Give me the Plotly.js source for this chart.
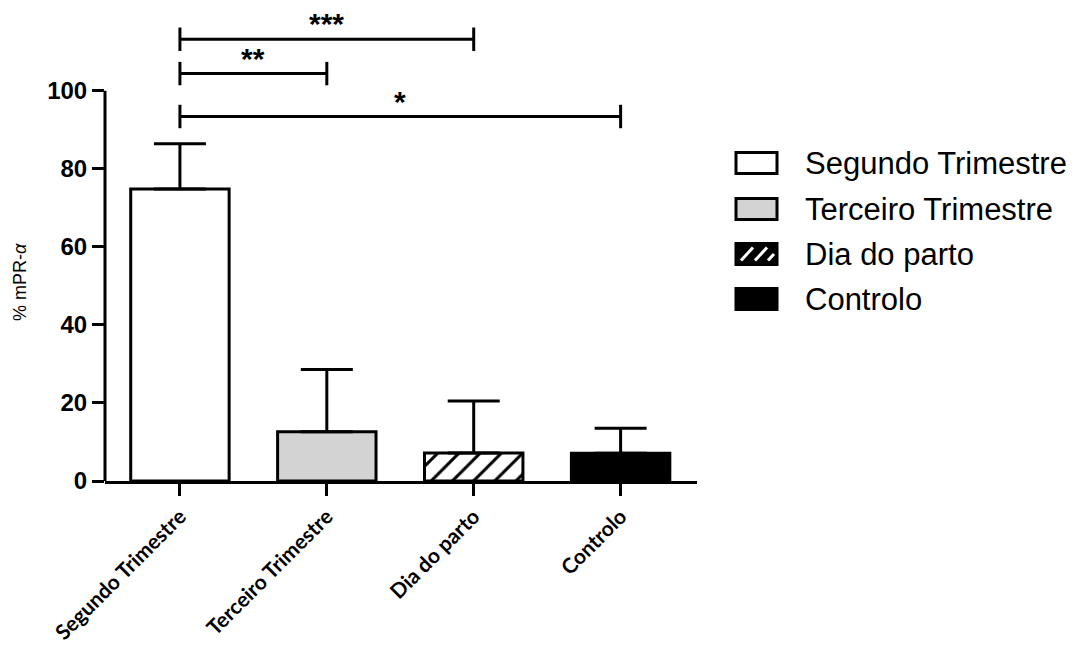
<!DOCTYPE html>
<html>
<head>
<meta charset="utf-8">
<script src="https://cdn.plot.ly/plotly-3.0.1.min.js"></script>
<style>html,body{margin:0;padding:0;background:#fff;}#chart{width:1076px;height:651px;}</style>
</head>
<body>
<div id="chart"></div>
<script>
// ---- data ----
const categories = ["Segundo Trimestre", "Terceiro Trimestre", "Dia do parto", "Controlo"];
const means = [74.8, 12.6, 7.2, 7.1];
const errPlus = [11.6, 16.0, 13.3, 6.4];
const fillColors = ["#ffffff", "#d3d3d3", "#000000", "#000000"];
const patternShapes = ["", "", "/", ""];
const yTicks = [0, 20, 40, 60, 80, 100];

// significance comparisons
const compFrom = [0, 0, 0];
const compTo = [2, 1, 3];
const compLevel = [113.2, 104.4, 93.4];
const compLabel = ["***", "**", "*"];

// ---- layout helpers ----
const L = 105, R = 379, T = 1, B = 170, W = 1076, H = 651;
const pw = W - L - R, ph = H - T - B;
const px = v => (v - L) / pw;
const py = v => (H - B - v) / ph;

const trace = {
  type: "bar",
  x: categories,
  y: means,
  width: 0.67,
  marker: {
    color: fillColors,
    line: {color: "#000", width: 3},
    pattern: {shape: patternShapes, fgcolor: "#ffffff", bgcolor: "#000000", size: 15, solidity: 0.2, fillmode: "replace"}
  },
  error_y: {type: "data", symmetric: false, array: errPlus, arrayminus: [0, 0, 0, 0], color: "#000", thickness: 3, width: 26},
  showlegend: false,
  hoverinfo: "x+y"
};

const shapes = [];
const annotations = [];

// y axis line only up to 100
shapes.push({type: "line", xref: "paper", yref: "y", x0: 0, x1: 0, y0: 0, y1: 100, line: {color: "#000", width: 3}});

// significance brackets
const tick = 3.0;
for (let i = 0; i < compFrom.length; i++) {
  const a = compFrom[i], b = compTo[i], y = compLevel[i];
  shapes.push({type: "line", xref: "x", yref: "y", x0: a, x1: b, y0: y, y1: y, line: {color: "#000", width: 3}});
  shapes.push({type: "line", xref: "x", yref: "y", x0: a, x1: a, y0: y - tick, y1: y + tick, line: {color: "#000", width: 3}});
  shapes.push({type: "line", xref: "x", yref: "y", x0: b, x1: b, y0: y - tick, y1: y + tick, line: {color: "#000", width: 3}});
  annotations.push({xref: "x", yref: "y", x: (a + b) / 2, y: y, text: compLabel[i], showarrow: false,
    yanchor: "bottom", yshift: -3, font: {family: "Liberation Sans, Arial", size: 30, color: "#000", weight: "bold"}});
}

// y axis title
annotations.push({xref: "paper", yref: "y", x: px(20), y: 51, text: "% mPR-<i>α</i>", textangle: -90, showarrow: false,
  xanchor: "center", yanchor: "middle", font: {family: "Liberation Sans, Arial", size: 18, color: "#000"}});

// custom legend
const legRows = [163, 209, 254, 299];
const boxL = 736, boxR = 777, boxH = 21;
categories.forEach((c, i) => {
  const cy = legRows[i];
  shapes.push({type: "rect", xref: "paper", yref: "paper", x0: px(boxL), x1: px(boxR), y0: py(cy + boxH / 2), y1: py(cy - boxH / 2),
    fillcolor: fillColors[i], line: {color: "#000", width: 3}});
  if (patternShapes[i] === "/") {
    const stripes = [[741, 753], [755, 767], [768, 774]];
    stripes.forEach(s => {
      const x0 = s[0], x1 = s[1];
      const y0 = cy + boxH / 2 - 4, y1 = cy - boxH / 2 + 4;
      shapes.push({type: "line", xref: "paper", yref: "paper", x0: px(x0), x1: px(x1), y0: py(y0), y1: py(y0 - (x1 - x0) * 1.1 > y1 ? y0 - (x1 - x0) * 1.1 : y1),
        line: {color: "#fff", width: 3}});
    });
  }
  annotations.push({xref: "paper", yref: "paper", x: px(803), y: py(cy), text: c, showarrow: false, xanchor: "left", yanchor: "middle",
    font: {family: "Liberation Sans, Arial", size: 31, color: "#000"}});
});

const layout = {
  width: W, height: H,
  margin: {l: L, r: R, t: T, b: B, pad: 0},
  paper_bgcolor: "#fff", plot_bgcolor: "#fff",
  xaxis: {
    type: "category",
    range: [-0.51, 3.52],
    showline: true, linecolor: "#000", linewidth: 3,
    ticks: "outside", ticklen: 12, tickwidth: 3, tickcolor: "#000",
    tickangle: -45,
    tickfont: {family: "Lato, Open Sans", size: 21, color: "#000", weight: "bold"},
    showgrid: false, zeroline: false, fixedrange: true
  },
  yaxis: {
    range: [0, 123],
    tickvals: yTicks,
    showline: false,
    ticks: "outside", ticklen: 12, tickwidth: 3, tickcolor: "#000",
    tickfont: {family: "Liberation Sans, Arial", size: 24, color: "#000", weight: "bold"},
    showgrid: false, zeroline: false, fixedrange: true
  },
  shapes: shapes,
  annotations: annotations,
  showlegend: false
};

Plotly.newPlot("chart", [trace], layout, {displayModeBar: false, staticPlot: true});
</script>
</body>
</html>
